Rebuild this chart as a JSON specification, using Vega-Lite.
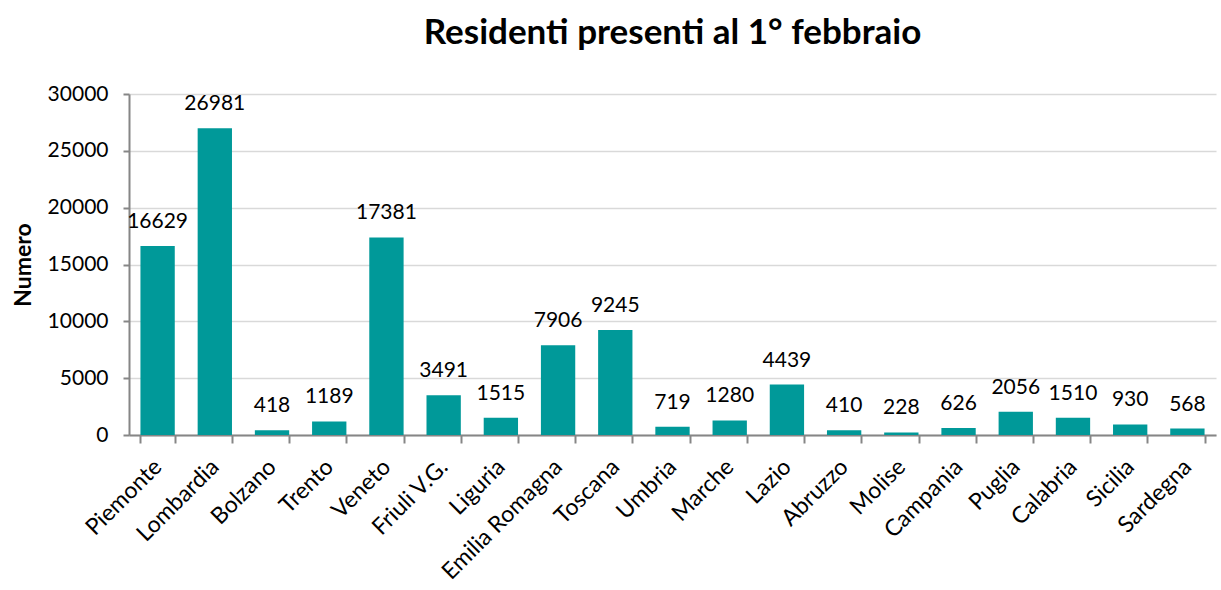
{
  "$schema": "https://vega.github.io/schema/vega-lite/v6.json",
  "autosize": {"type": "none"},
  "padding": {"left": 129, "top": 94, "right": 5, "bottom": 155},
  "width": 1087,
  "height": 341,
  "background": "white",
  "title": {"text": "Residenti presenti al 1° febbraio", "fontSize": 35, "fontWeight": "bold", "font": "Lato", "color": "#000000", "anchor": "middle", "offset": 32},
  "config": {"view": {"stroke": null}, "font": "Lato"},
  "data": {"values": [
    {"regione": "Piemonte", "numero": 16629},
    {"regione": "Lombardia", "numero": 26981},
    {"regione": "Bolzano", "numero": 418},
    {"regione": "Trento", "numero": 1189},
    {"regione": "Veneto", "numero": 17381},
    {"regione": "Friuli V.G.", "numero": 3491},
    {"regione": "Liguria", "numero": 1515},
    {"regione": "Emilia Romagna", "numero": 7906},
    {"regione": "Toscana", "numero": 9245},
    {"regione": "Umbria", "numero": 719},
    {"regione": "Marche", "numero": 1280},
    {"regione": "Lazio", "numero": 4439},
    {"regione": "Abruzzo", "numero": 410},
    {"regione": "Molise", "numero": 228},
    {"regione": "Campania", "numero": 626},
    {"regione": "Puglia", "numero": 2056},
    {"regione": "Calabria", "numero": 1510},
    {"regione": "Sicilia", "numero": 930},
    {"regione": "Sardegna", "numero": 568}
  ]},
  "encoding": {
    "x": {"field": "regione", "type": "nominal", "sort": null,
      "scale": {"paddingInner": 0.4, "paddingOuter": 0.2},
      "axis": {"title": null, "labelAngle": -45, "labelAlign": "right", "labelBaseline": "middle", "labelFontSize": 23, "labelColor": "#000000", "labelPadding": 20, "tickBand": "extent", "tickSize": 8, "tickColor": "#868686", "tickWidth": 2, "domainColor": "#868686", "domainWidth": 2, "grid": false}},
    "y": {"field": "numero", "type": "quantitative",
      "scale": {"domain": [0, 30000], "nice": false},
      "axis": {"title": "Numero", "titleFontSize": 23, "titleFontWeight": "bold", "titleColor": "#000000", "titlePadding": 12, "values": [0, 5000, 10000, 15000, 20000, 25000, 30000], "format": "d", "labelFontSize": 21, "labelColor": "#000000", "labelPadding": 15, "tickSize": 6, "tickColor": "#868686", "tickWidth": 2, "domainColor": "#868686", "domainWidth": 2, "gridColor": "#d9d9d9", "gridWidth": 1.5}}
  },
  "layer": [
    {"mark": {"type": "bar", "color": "#009999"}},
    {"mark": {"type": "text", "fontSize": 21, "color": "#000000", "baseline": "alphabetic", "dy": -18}, "encoding": {"text": {"field": "numero", "type": "quantitative", "format": "d"}}}
  ]
}
